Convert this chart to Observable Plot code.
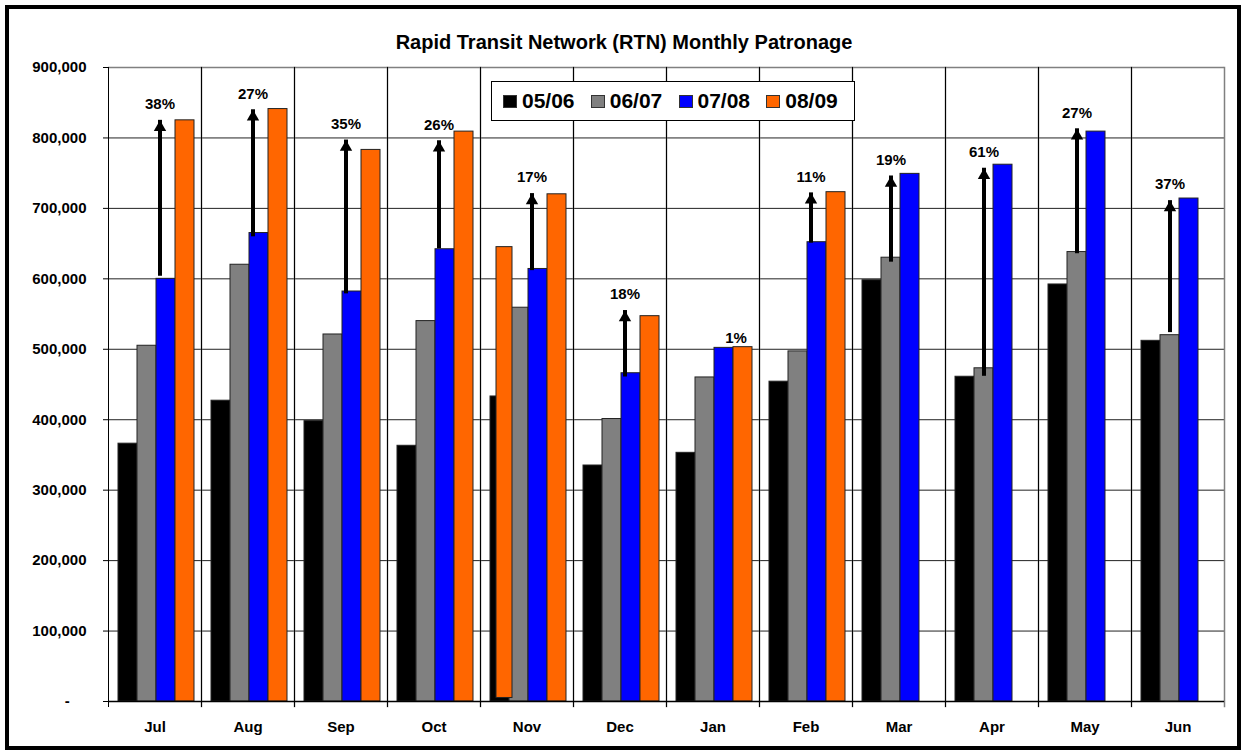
<!DOCTYPE html>
<html><head><meta charset="utf-8">
<script src="https://cdn.jsdelivr.net/npm/d3@7"></script>
<script src="https://cdn.jsdelivr.net/npm/@observablehq/plot@0.6"></script>
<style>
body{margin:0;background:#fff;font-family:"Liberation Sans",Arial,sans-serif;}
#wrap{position:relative;width:1242px;height:751px;overflow:hidden;background:#fff;}
#border{position:absolute;left:5px;top:5px;width:1236px;height:745px;box-sizing:border-box;border:4px solid #000;}
#chart{position:absolute;left:0;top:0;}
#title{position:absolute;left:3px;width:1242px;top:30px;text-align:center;font-weight:bold;font-size:20px;line-height:24px;color:#000;}
#legend{position:absolute;left:491px;top:81px;width:364px;height:40px;box-sizing:border-box;border:1px solid #000;background:#fff;display:flex;align-items:center;padding-left:11px;}
#legend .item{width:91px;display:flex;align-items:center;font-weight:bold;font-size:21px;color:#000;white-space:nowrap;}
#legend .sw{width:14px;height:13px;box-sizing:border-box;border:1px solid #333;margin-right:5px;}
</style>
</head><body>
<div id="wrap">
  <div id="chart"></div>
  <div id="border"></div>
  <div id="title">Rapid Transit Network (RTN) Monthly Patronage</div>
  <div id="legend"></div>
</div>
<script>
// ---- data ----
const months = ["Jul","Aug","Sep","Oct","Nov","Dec","Jan","Feb","Mar","Apr","May","Jun"];
const seriesNames = ["05/06","06/07","07/08","08/09"];
const seriesColors = ["#000000","#808080","#0000ff","#ff6600"];
const v0506 = [366000,427000,398000,363000,433000,335000,353000,454000,598000,461000,592000,512000];
const v0607 = [505000,620000,521000,540000,559000,401000,460000,497000,630000,473000,638000,520000];
const v0708 = [600000,665000,582000,642000,614000,466000,502000,652000,749000,762000,809000,714000];
const v0809 = [825000,841000,783000,809000,720000,547000,503000,723000,null,null,null,null];
const yTicks = [0,100000,200000,300000,400000,500000,600000,700000,800000,900000];

// stray orange bar drawn over the Nov 05/06 bar in the original
const extraMonth = ["Nov"];
const extraSeries = ["05/06"];
const extraLow = [5000];
const extraHigh = [645000];

// growth annotations (arrow from / to values, label)
const annMonths = ["Jul","Aug","Sep","Oct","Nov","Dec","Jan","Feb","Mar","Apr","May","Jun"];
const annBase   = ["07/08","07/08","07/08","07/08","07/08","07/08","07/08","07/08","06/07","06/07","06/07","06/07"];
const annFrom   = [615000,671000,590000,654000,623000,472000,503000,662000,635000,473000,647000,535000];
const annTo     = [825000,840000,797000,796000,721000,555000,503000,722000,746000,757000,813000,711000];
const annLabel  = ["38%","27%","35%","26%","17%","18%","1%","11%","19%","61%","27%","37%"];

// ---- build tables ----
const seriesValues = [v0506, v0607, v0708, v0809];
const data = [];
months.forEach((m, i) => seriesNames.forEach((s, j) => {
  const v = seriesValues[j][i];
  if (v != null) data.push({month: m, series: s, value: v});
}));
const extra = extraMonth.map((m, i) => ({month: m, series: extraSeries[i], lo: extraLow[i], hi: extraHigh[i]}));
const ann = annMonths.map((m, i) => ({month: m, base: annBase[i], from: annFrom[i], to: annTo[i], label: annLabel[i]}));
const withArrow = ann.filter(d => d.to - d.from > 10000);
const arrBlue = withArrow.filter(d => d.base === "07/08");
const arrGrey = withArrow.filter(d => d.base !== "07/08");
const noArrow = ann.filter(d => d.to - d.from <= 10000);

const fmt = d3.format(",");
const arrowMarks = (arr, dx) => [
  Plot.ruleX(arr, {fx: "month", x: "base", y1: "from", y2: "to", stroke: "#000", strokeWidth: 4, insetTop: 8, dx}),
  Plot.dot(arr, {fx: "month", x: "base", y: "to", symbol: "triangle", r: 4.6, fill: "#000", stroke: "none", dx, dy: 7.1}),
  Plot.text(arr, {fx: "month", x: "base", y: "to", text: "label", dx, dy: -16, fill: "#000", fontSize: 15, fontWeight: "bold"})
];

const chart = Plot.plot({
  width: 1242,
  height: 751,
  marginLeft: 107,
  marginRight: 18,
  marginTop: 67,
  marginBottom: 50,
  style: {fontFamily: '"Liberation Sans", Arial, sans-serif', fontSize: "15px", fontWeight: "bold", color: "#000", background: "transparent", overflow: "visible"},
  fx: {domain: months, padding: 0, axis: "bottom", label: null, tickSize: 0, tickPadding: 20},
  x: {domain: seriesNames, axis: null, paddingInner: 0, paddingOuter: 0.33, align: 0.6},
  y: {domain: [0, 900000], ticks: yTicks, tickSize: 5, tickPadding: 17, label: null,
      tickFormat: d => d === 0 ? "-\u00a0\u00a0\u00a0\u00a0" : fmt(d)},
  color: {domain: seriesNames, range: seriesColors},
  marks: [
    Plot.ruleY(yTicks.filter(t => t > 0 && t < 900000), {stroke: "#222", strokeWidth: 1}),
    Plot.ruleY([900000], {stroke: "#808080", strokeWidth: 1.5}),
    Plot.frame({anchor: "right", stroke: "#808080", strokeWidth: 1.5, insetBottom: -5}),
    Plot.frame({anchor: "left", stroke: "#000", strokeWidth: 1, insetBottom: -5}),
    Plot.barY(data, {fx: "month", x: "series", y: "value", fill: "series", stroke: "#222", strokeWidth: 1}),
    Plot.barY(extra, {fx: "month", x: "series", y1: "lo", y2: "hi", fill: "#ff6600", stroke: "#222", strokeWidth: 1, insetLeft: 6, insetRight: -3}),
    Plot.ruleY([0], {stroke: "#000", strokeWidth: 1.5}),
    ...arrowMarks(arrBlue, -6),
    ...arrowMarks(arrGrey, 0),
    Plot.text(noArrow, {fx: "month", x: "base", y: "to", text: "label", dx: 12, dy: -9, fill: "#000", fontSize: 15, fontWeight: "bold"})
  ]
});
document.getElementById("chart").appendChild(chart);

// legend
const lg = document.getElementById("legend");
seriesNames.forEach((s, i) => {
  const it = document.createElement("div");
  it.className = "item";
  const sw = document.createElement("div");
  sw.className = "sw";
  sw.style.background = seriesColors[i];
  const tx = document.createElement("span");
  tx.textContent = s;
  it.appendChild(sw); it.appendChild(tx);
  lg.appendChild(it);
});
</script>
</body></html>
